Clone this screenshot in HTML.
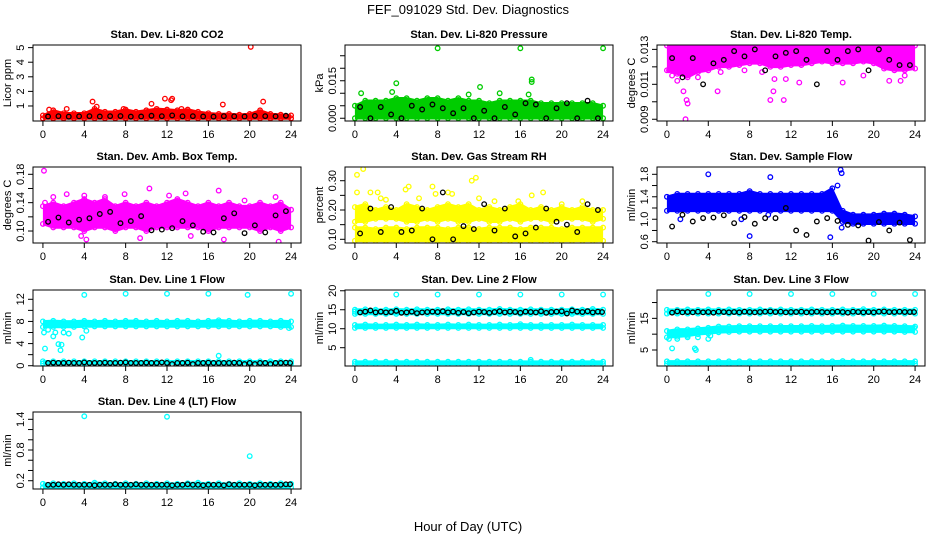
<!DOCTYPE html>
<html><head><meta charset="utf-8"><title>FEF_091029 Std. Dev. Diagnostics</title>
<style>
html,body{margin:0;padding:0;background:#fff;}
svg{display:block;font-family:"Liberation Sans",sans-serif;}
</style></head>
<body>
<svg id="chart" width="936" height="540" viewBox="0 0 936 540">
<text x="468" y="14" text-anchor="middle" font-size="13">FEF_091029  Std. Dev. Diagnostics</text>
<text x="468" y="531" text-anchor="middle" font-size="13">Hour of Day (UTC)</text>
</svg>
<script>
// ---------- data ----------
const xTicks = [0,4,8,12,16,20,24];
const hoursH = [0,1,2,3,4,5,6,7,8,9,10,11,12,13,14,15,16,17,18,19,20,21,22,23,24];
const hoursB24 = [0.5,1.5,2.5,3.5,4.5,5.5,6.5,7.5,8.5,9.5,10.5,11.5,12.5,13.5,14.5,15.5,16.5,17.5,18.5,19.5,20.5,21.5,22.5,23.5];
const hoursB48 = [0.5,1,1.5,2,2.5,3,3.5,4,4.5,5,5.5,6,6.5,7,7.5,8,8.5,9,9.5,10,10.5,11,11.5,12,12.5,13,13.5,14,14.5,15,15.5,16,16.5,17,17.5,18,18.5,19,19.5,20,20.5,21,21.5,22,22.5,23,23.5,23.9];

// P1 CO2
const co2BandLo = [0.15,0.15,0.15,0.15,0.15,0.15,0.15,0.15,0.15,0.15,0.15,0.15,0.15,0.15,0.15,0.15,0.15,0.15,0.15,0.15,0.15,0.15,0.15,0.15,0.15];
const co2BandHi = [0.35,0.7,0.5,0.5,0.5,0.8,0.6,0.6,0.75,0.6,0.7,0.8,0.75,0.7,0.75,0.6,0.5,0.45,0.45,0.4,0.45,0.7,0.45,0.4,0.35];
const co2OutX = [20.1,11.8,12.4,12.5,17.4,21.3,4.8,10.5,5.2,2.3,0.6,13.4,7.8];
const co2OutY = [5.05,1.5,1.4,1.5,1.1,1.3,1.3,1.15,0.95,0.8,0.75,0.8,0.8];
const co2Black = [0.28,0.3,0.27,0.29,0.3,0.28,0.3,0.31,0.27,0.28,0.33,0.3,0.35,0.29,0.3,0.28,0.27,0.3,0.29,0.28,0.32,0.3,0.29,0.33];

// P2 Pressure
const presBandLo = [0,0,0,0,0,0,0,0,0,0,0,0,0,0,0,0,0,0,0,0,0,0,0,0,0];
const presBandHi = [0.005,0.007,0.007,0.007,0.008,0.008,0.007,0.008,0.008,0.007,0.008,0.007,0.007,0.006,0.007,0.007,0.007,0.007,0.006,0.006,0.006,0.006,0.006,0.006,0.005];
const presOutX = [8,16,24,17.1,17.1,12.1,4,3.6,0.6,14,11,16.8];
const presOutY = [0.028,0.028,0.028,0.0155,0.0145,0.0125,0.014,0.0105,0.01,0.01,0.0095,0.0095];
const presBlack = [0.0045,0,0.0045,0.0015,0,0.005,0.0035,0.0055,0.004,0.002,0.004,0,0.003,0,0.0045,0.0015,0.006,0.0055,0,0.004,0.006,0,0.007,0];

// P3 Li-820 Temp
const tempBandLo = [0.0118,0.0116,0.0114,0.0117,0.0118,0.012,0.012,0.0121,0.0122,0.0122,0.012,0.012,0.0121,0.0121,0.0122,0.0123,0.0122,0.0122,0.0122,0.0123,0.0122,0.0119,0.0118,0.0118,0.0119];
const tempBandHi = [0.01322,0.01322,0.01322,0.01322,0.01322,0.01322,0.01322,0.01322,0.01322,0.01322,0.01322,0.01322,0.01322,0.01322,0.01322,0.01322,0.01322,0.01322,0.01322,0.01322,0.01322,0.01322,0.01322,0.01322,0.01322];
const tempOutX = [1.8,2,1.9,1.6,4.9,10,10.3,11.3,10.4,11.5,12.8,17,0.2,0.5,21.5,22.6,19,23,5.2,1,3,7.5,9.2];
const tempOutY = [0.009,0.0099,0.0101,0.0106,0.0106,0.0101,0.0106,0.0101,0.0113,0.0113,0.0111,0.0111,0.0118,0.0115,0.0112,0.0112,0.0115,0.0115,0.0117,0.0112,0.0114,0.0118,0.0117];
const tempBlack = [0.0125,0.0114,0.0125,0.011,0.0122,0.0124,0.0129,0.0126,0.013,0.0118,0.0126,0.0128,0.0129,0.0124,0.011,0.0129,0.0124,0.0129,0.013,0.0118,0.013,0.0124,0.0121,0.0121];

// P4 Amb Box Temp
const ambBandLo = [0.11,0.105,0.105,0.105,0.1,0.105,0.105,0.1,0.105,0.105,0.1,0.105,0.105,0.105,0.105,0.105,0.1,0.105,0.105,0.105,0.105,0.1,0.105,0.1,0.105];
const ambBandHi = [0.135,0.14,0.135,0.14,0.145,0.14,0.145,0.135,0.14,0.135,0.14,0.135,0.14,0.145,0.14,0.135,0.14,0.135,0.14,0.135,0.135,0.14,0.135,0.14,0.13];
const ambOutX = [0.1,10.3,17,2.3,13.8,22.5,6,1,0.2,4,4.2,9.4,14.3,22.8,17.5,3.7,12.2,19.5,7.9];
const ambOutY = [0.185,0.16,0.157,0.152,0.153,0.148,0.148,0.148,0.14,0.15,0.088,0.09,0.093,0.085,0.088,0.093,0.15,0.143,0.152];
const ambBlack = [0.113,0.119,0.112,0.116,0.118,0.124,0.127,0.111,0.114,0.121,0.101,0.102,0.104,0.114,0.108,0.099,0.098,0.118,0.125,0.097,0.108,0.098,0.122,0.128];

// P5 Gas Stream RH
const rhBandLo = [0.095,0.095,0.095,0.095,0.095,0.095,0.095,0.095,0.095,0.095,0.095,0.095,0.095,0.095,0.095,0.095,0.095,0.095,0.095,0.095,0.095,0.095,0.095,0.095,0.095];
const rhBandHi = [0.14,0.14,0.135,0.14,0.14,0.135,0.14,0.14,0.14,0.135,0.14,0.14,0.135,0.14,0.14,0.14,0.135,0.14,0.14,0.14,0.135,0.14,0.14,0.14,0.14];
const rhMidLo = [0.16,0.16,0.17,0.17,0.17,0.16,0.16,0.17,0.16,0.17,0.16,0.16,0.17,0.16,0.16,0.17,0.16,0.17,0.17,0.16,0.17,0.17,0.17,0.16,0.17];
const rhMidHi = [0.21,0.22,0.2,0.21,0.2,0.22,0.21,0.2,0.21,0.22,0.21,0.22,0.2,0.21,0.2,0.21,0.22,0.2,0.21,0.2,0.21,0.2,0.21,0.2,0.2];
const rhOutX = [0.2,0.8,0.2,1.5,2.2,4.9,5.2,7.5,7.8,9,9.4,11.3,11.7,12,17.1,18.2,15.8,22,20,3,23.4,2.5,6.2,13.5];
const rhOutY = [0.32,0.34,0.26,0.26,0.26,0.27,0.28,0.28,0.255,0.26,0.255,0.3,0.31,0.24,0.25,0.26,0.23,0.23,0.22,0.235,0.1,0.24,0.24,0.23];
const rhBlack = [0.12,0.205,0.125,0.21,0.125,0.13,0.205,0.1,0.26,0.1,0.145,0.135,0.22,0.13,0.205,0.11,0.12,0.14,0.205,0.16,0.15,0.125,0.22,0.2];

// P6 Sample Flow
const sfBandLo = [1.15,1.15,1.15,1.15,1.15,1.15,1.15,1.15,1.15,1.15,1.15,1.15,1.15,1.15,1.15,1.15,1.15,0.95,0.92,0.92,0.92,0.92,0.92,0.92,0.92];
const sfBandHi = [1.4,1.45,1.45,1.45,1.45,1.45,1.45,1.45,1.5,1.45,1.45,1.45,1.45,1.45,1.45,1.45,1.55,1.15,1.08,1.08,1.08,1.1,1.1,1.08,1.05];
const sfOutX = [4,10,16.8,16.9,8,15.8,16.9,1.3,7.2,9.8,16.5];
const sfOutY = [1.8,1.75,1.88,1.82,0.7,0.68,0.85,1.0,1.0,1.08,1.6];
const sfBlack = [0.87,1.08,0.96,1.02,1.03,1.07,0.93,1.04,0.92,1.02,1.02,1.2,0.8,0.72,0.96,1.02,0.97,0.9,0.89,0.62,0.95,0.8,0.94,0.63];

// P7 Line 1 Flow
const l1BandLo = [7.0,7.0,7.0,7.0,7.1,7.1,7.1,7.1,7.1,7.1,7.1,7.1,7.1,7.1,7.1,7.1,7.1,7.1,7.1,7.1,7.1,7.1,7.1,7.0,7.0];
const l1BandHi = [8.0,8.1,8.0,8.0,8.1,8.0,8.1,8.0,8.1,8.1,8.0,8.1,8.0,8.1,8.1,8.0,8.1,8.2,8.1,8.0,8.1,8.1,8.0,8.1,8.0];
const l1LowLo = [0.4,0.4,0.4,0.4,0.4,0.4,0.4,0.4,0.4,0.4,0.4,0.4,0.4,0.4,0.4,0.4,0.4,0.4,0.4,0.4,0.4,0.4,0.4,0.4,0.4];
const l1LowHi = [0.8,0.8,0.8,0.8,0.8,0.8,0.8,0.8,0.8,0.8,0.8,0.8,0.8,0.8,0.8,0.8,0.8,0.8,0.8,0.8,0.8,0.8,0.8,0.8,0.8];
const l1OutX = [0.1,0.2,1,1.5,1.7,1.8,1.2,2.5,3.8,4,8,12,16,19.8,24,17,2,0.5,4.2,23.8];
const l1OutY = [6,3.1,5.3,3.9,2.8,3.8,6,5.8,5.1,12.8,13,13,13,12.8,13,1.8,6,6.5,6.3,6.8];
const l1Black = [0.5,0.55,0.5,0.5,0.55,0.5,0.5,0.6,0.5,0.5,0.5,0.55,0.5,0.5,0.55,0.6,0.5,0.5,0.5,0.55,0.5,0.5,0.6,0.5,0.3,0.5,0.5,0.55,0.3,0.5,0.5,0.55,0.5,0.5,0.5,0.5,0.55,0.5,0.3,0.5,0.3,0.5,0.5,0.3,0.5,0.5,0.55,0.5];

// P8 Line 2 Flow
const l2TopLo = [13.9,13.9,13.9,13.9,13.9,13.9,13.9,13.9,13.9,13.9,13.9,13.9,13.9,13.9,13.9,13.9,13.9,13.9,13.9,13.9,13.9,13.9,13.9,13.9,13.9];
const l2TopHi = [15.0,15.1,15.0,15.0,15.1,15.0,15.1,15.0,15.0,15.1,15.0,15.1,15.0,15.0,15.2,15.0,15.0,15.1,15.0,15.0,15.0,15.1,15.0,15.2,15.0];
const l2MidLo = [10.2,10.2,10.2,10.2,10.2,10.2,10.2,10.2,10.2,10.2,10.2,10.2,10.2,10.2,10.2,10.2,10.2,10.2,10.2,10.2,10.2,10.2,10.2,10.2,10.2];
const l2MidHi = [11.0,11.1,11.0,11.0,11.1,11.0,11.1,11.0,11.0,11.1,11.0,11.1,11.0,11.0,11.1,11.0,11.2,11.0,11.0,11.0,11.0,11.1,11.0,11.0,11.0];
const l2LowLo = [0.7,0.7,0.7,0.7,0.7,0.7,0.7,0.7,0.7,0.7,0.7,0.7,0.7,0.7,0.7,0.7,0.7,0.7,0.7,0.7,0.7,0.7,0.7,0.7,0.7];
const l2LowHi = [1.3,1.3,1.3,1.3,1.3,1.3,1.3,1.3,1.3,1.3,1.3,1.3,1.3,1.3,1.3,1.3,1.3,1.3,1.3,1.3,1.3,1.3,1.3,1.3,1.3];
const l2OutX = [4,8,12,16,20,24,17,0];
const l2OutY = [19,19,19,19,19,19,1.8,14.5];
const l2Black = [14.3,14.5,14.8,14.3,14.5,14.3,14.4,14.7,14.2,14.3,14.5,14.1,14.3,14.4,14.5,14.4,14.6,14.3,14.5,14.2,14.4,14.1,14.3,14.5,14.4,14.2,14.4,14.6,14.3,14.5,14.4,14.2,14.5,14.4,14.3,14.6,14.2,14.4,14.5,14.6,14.0,14.8,14.5,14.4,14.6,14.3,14.5,14.4];

// P9 Line 3 Flow
const l3TopLo = [16.5,16.5,16.5,16.5,16.5,16.5,16.5,16.5,16.5,16.5,16.5,16.5,16.5,16.5,16.5,16.5,16.5,16.5,16.5,16.5,16.5,16.5,16.5,16.5,16.5];
const l3TopHi = [17.7,17.7,17.8,17.7,17.8,17.7,17.8,17.7,17.7,17.8,17.7,17.8,17.7,17.7,17.8,17.7,17.7,17.8,17.7,17.9,17.7,17.8,17.7,17.7,17.7];
const l3MidLo = [9.0,9.2,9.5,10.0,10.2,10.6,10.7,10.8,10.8,10.8,10.8,10.8,10.8,10.8,10.8,10.8,10.8,10.8,10.8,10.8,10.8,10.8,10.8,10.7,10.7];
const l3MidHi = [11.0,11.5,11.5,11.8,12.0,12.4,12.4,12.5,12.5,12.5,12.5,12.5,12.5,12.5,12.6,12.5,12.6,12.7,12.6,12.6,12.6,12.7,12.6,12.5,12.4];
const l3LowLo = [0.6,0.6,0.6,0.6,0.6,0.6,0.6,0.6,0.6,0.6,0.6,0.6,0.6,0.6,0.6,0.6,0.6,0.6,0.6,0.6,0.6,0.6,0.6,0.6,0.6];
const l3LowHi = [1.4,1.4,1.4,1.4,1.4,1.4,1.4,1.4,1.4,1.4,1.4,1.4,1.4,1.4,1.4,1.4,1.4,1.5,1.4,1.4,1.4,1.4,1.4,1.4,1.4];
const l3OutX = [4,8,12,16,20,24,0.2,0.5,1,1.5,2,2.7,2.8,3,4,4.2,23.9];
const l3OutY = [22.7,22.7,22.7,22.7,22.7,22.7,8.5,5.5,8.5,10,9,5.5,5,9,8.5,9.5,12];
const l3Black = [16.8,17.2,16.9,17.0,16.9,17.1,16.9,17.0,16.8,17.1,17.0,16.9,17.0,16.9,17.1,17.0,16.9,17.0,17.1,17.2,17.0,17.1,16.9,17.0,17.0,17.1,16.9,17.0,17.1,17.0,16.9,17.0,17.1,17.0,16.8,17.1,17.0,16.9,17.0,16.9,17.1,17.2,17.0,17.0,17.1,17.0,17.0,17.0];

// P10 Line 4 Flow
const l4BandLo = [0.07,0.07,0.07,0.07,0.07,0.07,0.07,0.07,0.07,0.07,0.07,0.07,0.07,0.07,0.07,0.07,0.07,0.07,0.07,0.07,0.07,0.07,0.07,0.07,0.07];
const l4BandHi = [0.14,0.15,0.14,0.15,0.14,0.16,0.15,0.14,0.15,0.14,0.15,0.14,0.15,0.14,0.15,0.16,0.14,0.15,0.14,0.15,0.14,0.15,0.14,0.15,0.14];
const l4OutX = [4,12,20];
const l4OutY = [1.46,1.45,0.68];
const l4Black = [0.12,0.12,0.13,0.12,0.13,0.12,0.12,0.12,0.12,0.11,0.12,0.12,0.12,0.13,0.12,0.12,0.12,0.13,0.12,0.12,0.12,0.12,0.12,0.12,0.11,0.12,0.12,0.13,0.12,0.12,0.11,0.12,0.12,0.12,0.11,0.13,0.12,0.12,0.12,0.12,0.11,0.12,0.12,0.12,0.12,0.12,0.13,0.13];

// ---------- panel layout ----------
const colL = [33,345,657], colR = [301,613,925];
const rowT = [45,167,290,412], rowB = [121,243,366,489];

const panels = [
 {name:'co2', title:'Stan. Dev. Li-820 CO2', ylab:'Licor ppm', col:0,row:0, ylim:[-0.03,5.18], ticks:[1,2,3,4,5], labels:['1','2','3','4','5'], color:'#ff0000',
  bands:[[co2BandLo,co2BandHi]], outX:co2OutX,outY:co2OutY, black:co2Black, bx:hoursB24},
 {name:'pressure', title:'Stan. Dev. Li-820 Pressure', ylab:'kPa', col:1,row:0, ylim:[-0.0011,0.0293], ticks:[0,0.005,0.01,0.015,0.02,0.025], labels:['0.000','','','0.015','',''], color:'#00cc00',
  bands:[[presBandLo,presBandHi]], outX:presOutX,outY:presOutY, black:presBlack, bx:hoursB24},
 {name:'li820-temp', title:'Stan. Dev. Li-820 Temp.', ylab:'degrees C', col:2,row:0, ylim:[0.0089,0.01325], ticks:[0.009,0.01,0.011,0.012,0.013], labels:['0.009','','0.011','','0.013'], color:'#ff00ff',
  bands:[[tempBandLo,tempBandHi]], outX:tempOutX,outY:tempOutY, black:tempBlack, bx:hoursB24},
 {name:'amb-box-temp', title:'Stan. Dev. Amb. Box Temp.', ylab:'degrees C', col:0,row:1, ylim:[0.0831,0.1903], ticks:[0.10,0.12,0.14,0.16,0.18], labels:['0.10','','0.14','','0.18'], color:'#ff00ff',
  bands:[[ambBandLo,ambBandHi]], outX:ambOutX,outY:ambOutY, black:ambBlack, bx:hoursB24},
 {name:'gas-stream-rh', title:'Stan. Dev. Gas Stream RH', ylab:'percent', col:1,row:1, ylim:[0.0874,0.3468], ticks:[0.10,0.15,0.20,0.25,0.30], labels:['0.10','','0.20','','0.30'], color:'#ffff00',
  bands:[[rhBandLo,rhBandHi],[rhMidLo,rhMidHi]], outX:rhOutX,outY:rhOutY, black:rhBlack, bx:hoursB24},
 {name:'sample-flow', title:'Stan. Dev. Sample Flow', ylab:'ml/min', col:2,row:1, ylim:[0.577,1.93], ticks:[0.6,0.8,1.0,1.2,1.4,1.6,1.8], labels:['0.6','','1.0','','1.4','','1.8'], color:'#0000ff',
  bands:[[sfBandLo,sfBandHi]], outX:sfOutX,outY:sfOutY, black:sfBlack, bx:hoursB24},
 {name:'line1-flow', title:'Stan. Dev. Line 1 Flow', ylab:'ml/min', col:0,row:2, ylim:[-0.05,13.68], ticks:[0,2,4,6,8,10,12], labels:['0','','4','','8','','12'], color:'#00ffff',
  bands:[[l1BandLo,l1BandHi],[l1LowLo,l1LowHi]], outX:l1OutX,outY:l1OutY, black:l1Black, bx:hoursB48},
 {name:'line2-flow', title:'Stan. Dev. Line 2 Flow', ylab:'ml/min', col:1,row:2, ylim:[0.18,20.2], ticks:[5,10,15,20], labels:['5','10','15','20'], color:'#00ffff',
  bands:[[l2TopLo,l2TopHi],[l2MidLo,l2MidHi],[l2LowLo,l2LowHi]], outX:l2OutX,outY:l2OutY, black:l2Black, bx:hoursB48},
 {name:'line3-flow', title:'Stan. Dev. Line 3 Flow', ylab:'ml/min', col:2,row:2, ylim:[-0.06,23.96], ticks:[5,10,15,20], labels:['5','','15',''], color:'#00ffff',
  bands:[[l3TopLo,l3TopHi],[l3MidLo,l3MidHi],[l3LowLo,l3LowHi]], outX:l3OutX,outY:l3OutY, black:l3Black, bx:hoursB48},
 {name:'line4-flow', title:'Stan. Dev. Line 4 (LT) Flow', ylab:'ml/min', col:0,row:3, ylim:[0.038,1.543], ticks:[0.2,0.4,0.6,0.8,1.0,1.2,1.4], labels:['0.2','','','0.8','','','1.4'], color:'#00ffff',
  bands:[[l4BandLo,l4BandHi]], outX:l4OutX,outY:l4OutY, black:l4Black, bx:hoursB48}
];

const NS = 'http://www.w3.org/2000/svg';
const svg = document.getElementById('chart');
function mk(tag, attrs, parent){
  const e = document.createElementNS(NS, tag);
  for (const k in attrs) e.setAttribute(k, attrs[k]);
  parent.appendChild(e);
  return e;
}
const RAD = 2.3, SW = 1.3;

panels.forEach(p => {
  const L = colL[p.col], R = colR[p.col], T = rowT[p.row], B = rowB[p.row];
  const pad = (R - L) / 1.08 * 0.04;
  const xs = h => L + pad + (h / 24) * (R - L - 2 * pad);
  const ys = v => B - (v - p.ylim[0]) / (p.ylim[1] - p.ylim[0]) * (B - T);

  const g = mk('g', {}, svg);
  
  

  const clipId = 'clip-' + p.name;
  const cp = mk('clipPath', {id: clipId}, g);
  mk('rect', {x: L, y: T, width: R - L, height: B - T}, cp);

  const plot = mk('g', {'clip-path': 'url(#' + clipId + ')'}, g);
  
  

  p.bands.forEach((bd, bi) => {
    const lo = bd[0], hi = bd[1];
    let d = '';
    hoursH.forEach((h, i) => { d += (i ? 'L' : 'M') + xs(h).toFixed(1) + ',' + (ys(hi[i]) - 1.3).toFixed(1); });
    for (let i = hoursH.length - 1; i >= 0; i--) d += 'L' + xs(hoursH[i]).toFixed(1) + ',' + (ys(lo[i]) + 1.3).toFixed(1);
    d += 'Z';
    const path = mk('path', {d: d, fill: p.color}, plot);
    
    
    [lo, hi].forEach(arr => {
      hoursH.forEach((h, i) => {
        const c = mk('circle', {cx: xs(h), cy: ys(arr[i]), r: RAD, fill: 'none', stroke: p.color, 'stroke-width': SW}, plot);
        
        
      });
    });
  });

  p.outX.forEach((h, i) => {
    const c = mk('circle', {cx: xs(h), cy: ys(p.outY[i]), r: RAD, fill: 'none', stroke: p.color, 'stroke-width': SW}, plot);
    
    
  });

  p.black.forEach((v, i) => {
    const c = mk('circle', {cx: xs(p.bx[i]), cy: ys(v), r: RAD, fill: 'none', stroke: '#000', 'stroke-width': SW}, plot);
    
    
  });

  const box = mk('rect', {x: L, y: T, width: R - L, height: B - T, fill: 'none', stroke: '#000', 'stroke-width': 1}, g);
  
  

  mk('line', {x1: xs(0), x2: xs(24), y1: B, y2: B, stroke: '#000'}, g);
  xTicks.forEach(t => {
    mk('line', {x1: xs(t), x2: xs(t), y1: B, y2: B + 5, stroke: '#000'}, g);
    const tx = mk('text', {x: xs(t), y: B + 17, 'text-anchor': 'middle', 'font-size': 11}, g);
    tx.textContent = t;
    
    
  });

  const yt = p.ticks.map(ys);
  mk('line', {x1: L, x2: L, y1: Math.min(...yt), y2: Math.max(...yt), stroke: '#000'}, g);
  p.ticks.forEach((t, i) => {
    const y = ys(t);
    mk('line', {x1: L - 5, x2: L, y1: y, y2: y, stroke: '#000'}, g);
    if (p.labels[i]) {
      const tx = mk('text', {x: L - 9, y: y, 'text-anchor': 'middle', 'font-size': 11, transform: 'rotate(-90 ' + (L - 9) + ' ' + y + ')'}, g);
      tx.textContent = p.labels[i];
      
      
    }
  });

  const yl = mk('text', {x: L - 22, y: (T + B) / 2, 'text-anchor': 'middle', 'font-size': 11, transform: 'rotate(-90 ' + (L - 22) + ' ' + ((T + B) / 2) + ')'}, g);
  yl.textContent = p.ylab;
  
  

  const ti = mk('text', {x: (L + R) / 2, y: T - 7, 'text-anchor': 'middle', 'font-size': 11, 'font-weight': 'bold'}, g);
  ti.textContent = p.title;
  
  
});
</script>
</body></html>
